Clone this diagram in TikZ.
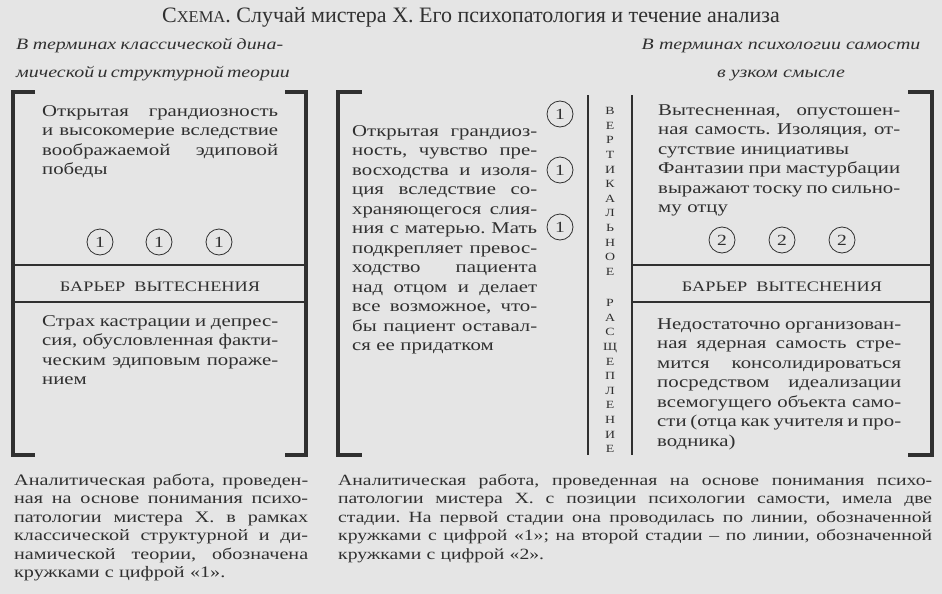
\documentclass[tikz,border=0pt]{standalone}
\usepackage{fontspec}
\setmainfont[FakeStretch=1.26]{Liberation Serif}
\newfontfamily\titlefont{Liberation Serif}
\usetikzlibrary{positioning}

\definecolor{paper}{RGB}{229,229,229}
\definecolor{ink}{RGB}{48,48,48}

\frenchspacing
% one fully justified line
\newcommand{\fl}[1]{\makebox[\hsize][s]{\spaceskip=0pt\xspaceskip=0pt #1}}

\begin{document}
\begin{tikzpicture}[
    x=1pt, y=-1pt,
    every node/.style={text=ink, inner sep=0pt},
    txt/.style={
        anchor=base west,
        align=left,
        font=\fontsize{16.5}{19.5}\selectfont
    },
    note/.style={
        anchor=base west,
        align=left,
        font=\fontsize{16}{18.5}\selectfont
    },
    head/.style={
        anchor=base,
        align=center,
        font=\fontsize{15.8}{28}\selectfont\itshape
    },
    num/.style={
        circle,
        draw=ink,
        line width=0.8pt,
        minimum size=26pt,
        font=\fontsize{15.5}{15.5}\selectfont
    },
    barrier/.style={anchor=base, font=\fontsize{14.5}{14.5}\selectfont},
    letters/.style={
        anchor=base,
        align=center,
        text width=20pt,
        font=\fontsize{11}{14.6}\selectfont
    },
    bracket/.style={draw=ink, line width=3.6pt},
    rule/.style={draw=ink, line width=1.4pt}
]

% paper
\fill[paper] (0,0) rectangle (942,594);

\node[anchor=base] (title) at (471,23)
    {\titlefont\fontsize{22}{22}\selectfont С{\fontsize{16.5}{16.5}\selectfont ХЕМА}. Случай мистера Х. Его психопатология и течение анализа};

\node[head, anchor=base west, align=left, text width=267pt] (headleft) at (16,50)
    {\fl{В терминах классической дина-}\\\fl{мической и структурной теории}};
\node[head, text width=320pt] (headright) at (781,50)
    {В терминах психологии самости\\в узком смысле};

% left panel
\draw[bracket] (35,92) -- (13,92) -- (13,455) -- (35,455);
\draw[bracket] (285,92) -- (306,92) -- (306,455) -- (285,455);
\draw[rule] (13,265) -- (306,265);
\draw[rule] (13,302) -- (306,302);

\node[txt, text width=236pt] (lefttop) at (42,116)
    {\fl{Открытая грандиозность}\\
     \fl{и высокомерие вследствие}\\
     \fl{воображаемой эдиповой}\\
     победы};
\node[num] (l1) at (100,242) {1};
\node[num] (l2) at (159,242) {1};
\node[num] (l3) at (219,242) {1};
\node[barrier] (barleft) at (160,291) {БАРЬЕР\ \ ВЫТЕСНЕНИЯ};
\node[txt, text width=236pt] (leftbot) at (42,326)
    {\fl{Страх кастрации и депрес-}\\
     \fl{сия, обусловленная факти-}\\
     \fl{ческим эдиповым пораже-}\\
     нием};

% middle panel
\draw[bracket] (362,92) -- (338,92) -- (338,455) -- (362,455);
\draw[rule] (588,95) -- (588,455);

\node[txt, text width=185pt] (midtext) at (352,136)
    {\fl{Открытая грандиоз-}\\
     \fl{ность, чувство пре-}\\
     \fl{восходства и изоля-}\\
     \fl{ция вследствие со-}\\
     \fl{храняющегося слия-}\\
     \fl{ния с матерью. Мать}\\
     \fl{подкрепляет превос-}\\
     \fl{ходство пациента}\\
     \fl{над отцом и делает}\\
     \fl{все возможное, что-}\\
     \fl{бы пациент оставал-}\\
     ся ее придатком};
\node[num] (m1) at (560,114) {1};
\node[num] (m2) at (560,170) {1};
\node[num] (m3) at (560,227) {1};

\node[letters] (split1) at (610,114.6)
    {В\\Е\\Р\\Т\\И\\К\\А\\Л\\Ь\\Н\\О\\Е};
\node[letters] (split2) at (610,306.6)
    {Р\\А\\С\\Щ\\Е\\П\\Л\\Е\\Н\\И\\Е};

% right panel
\draw[rule] (632,95) -- (632,455);
\draw[bracket] (908,92) -- (932,92) -- (932,455) -- (908,455);
\draw[rule] (632,265) -- (932,265);
\draw[rule] (632,302) -- (932,302);

\node[txt, text width=242pt] (righttop) at (658,115)
    {\fl{Вытесненная, опустошен-}\\
     \fl{ная самость. Изоляция, от-}\\
     сутствие инициативы\\
     \fl{Фантазии при мастурбации}\\
     \fl{выражают тоску по сильно-}\\
     му отцу};
\node[num] (r1) at (722,240) {2};
\node[num] (r2) at (782,240) {2};
\node[num] (r3) at (842,240) {2};
\node[barrier] (barright) at (782,291) {БАРЬЕР\ \ ВЫТЕСНЕНИЯ};
\node[txt, text width=244pt] (rightbot) at (657,329)
    {\fl{Недостаточно организован-}\\
     \fl{ная ядерная самость стре-}\\
     \fl{мится консолидироваться}\\
     \fl{посредством идеализации}\\
     \fl{всемогущего объекта само-}\\
     \fl{сти (отца как учителя и про-}\\
     водника)};

% notes under the panels
\node[note, text width=294pt] (noteleft) at (14,485)
    {\fl{Аналитическая работа, проведен-}\\
     \fl{ная на основе понимания психо-}\\
     \fl{патологии мистера Х. в рамках}\\
     \fl{классической структурной и ди-}\\
     \fl{намической теории, обозначена}\\
     кружками с цифрой «1».};
\node[note, font=\fontsize{15.6}{18.5}\selectfont, text width=594pt] (noteright) at (338,485)
    {\fl{Аналитическая работа, проведенная на основе понимания психо-}\\
     \fl{патологии мистера Х. с позиции психологии самости, имела две}\\
     \fl{стадии. На первой стадии она проводилась по линии, обозначенной}\\
     \fl{кружками с цифрой «1»; на второй стадии -- по линии, обозначенной}\\
     кружками с цифрой «2».};

\end{tikzpicture}
\end{document}
